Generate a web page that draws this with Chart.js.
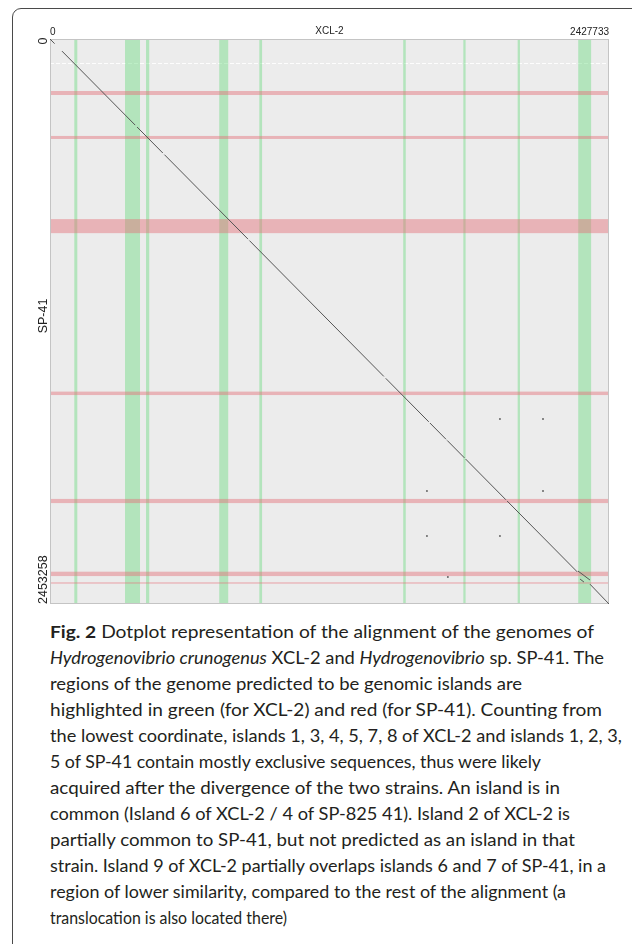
<!DOCTYPE html>
<html>
<head>
<meta charset="utf-8">
<script src="https://cdn.jsdelivr.net/npm/chart.js@4.4.1/dist/chart.umd.min.js"></script>
<style>
html, body { margin: 0; padding: 0; background: #fff; width: 632px; height: 944px; overflow: hidden; }
#frame { position: absolute; left: 12px; top: 8px; width: 700px; height: 1000px; border: 1px solid #4a4a4a; border-radius: 9px; }
#wrap { position: absolute; left: 0; top: 0; width: 632px; height: 612px; }
#caption { position: absolute; left: 50px; top: 619px; font-family: Lato, "Open Sans", sans-serif; font-size: 17.5px; line-height: 26px; color: #231f20; white-space: nowrap; }
#caption div { height: 26px; }
#caption span.ln { display: inline-block; transform-origin: 0 50%; }
#caption b { font-weight: 700; }
</style>
</head>
<body>
<div id="frame"></div>
<div id="wrap"><canvas id="dotplot"></canvas></div>
<div id="caption">
<div><span class="ln"><b>Fig. 2</b> Dotplot representation of the alignment of the genomes of</span></div>
<div><span class="ln"><i>Hydrogenovibrio crunogenus</i> XCL-2 and <i>Hydrogenovibrio</i> sp. SP-41. The</span></div>
<div><span class="ln">regions of the genome predicted to be genomic islands are</span></div>
<div><span class="ln">highlighted in green (for XCL-2) and red (for SP-41). Counting from</span></div>
<div><span class="ln">the lowest coordinate, islands 1, 3, 4, 5, 7, 8 of XCL-2 and islands 1, 2, 3,</span></div>
<div><span class="ln">5 of SP-41 contain mostly exclusive sequences, thus were likely</span></div>
<div><span class="ln">acquired after the divergence of the two strains. An island is in</span></div>
<div><span class="ln">common (Island 6 of XCL-2 / 4 of SP-825 41). Island 2 of XCL-2 is</span></div>
<div><span class="ln">partially common to SP-41, but not predicted as an island in that</span></div>
<div><span class="ln">strain. Island 9 of XCL-2 partially overlaps islands 6 and 7 of SP-41, in a</span></div>
<div><span class="ln">region of lower similarity, compared to the rest of the alignment (a</span></div>
<div><span class="ln">translocation is also located there)</span></div>
</div>
<script>
// genome lengths (axis ends)
const xclLength = 2427733;
const spLength = 2453258;
const xTickLabels = ['0', '2427733'];
const yTickLabels = ['0', '2453258'];

// islands of XCL-2 (green, x axis)
const xclIslandStart = [105500, 325700, 417000, 735000, 909000, 1534000, 1795000, 2031000, 2294000];
const xclIslandEnd   = [118600, 390900, 431000, 774000, 921000, 1545000, 1805000, 2041000, 2350000];

// islands of SP-41 (red, y axis)
const spIslandStart = [225800, 421000, 782000, 1531000, 1997000, 2313000, 2359000];
const spIslandEnd   = [243200, 434000, 843000, 1546000, 2015000, 2332000, 2365000];

// alignment segments (XCL-2 -> SP-41)
const segXStart = [0, 52000, 378000, 497000, 866000, 1458000, 1650000, 1725000, 1805000, 1985000, 2293000, 2302000, 2345000];
const segXEnd   = [20000, 370000, 490000, 860000, 1450000, 1645000, 1720000, 1800000, 1980000, 2290000, 2345000, 2319000, 2427733];
const segYStart = [0, 52550, 382000, 502200, 875100, 1473300, 1667300, 1743100, 1823900, 2005800, 2310000, 2345000, 2367000];
const segYEnd   = [20200, 373900, 495100, 869000, 1465200, 1662300, 1738100, 1818900, 2000800, 2314000, 2349000, 2358000, 2453258];

// small off-diagonal hits
const dotX = [1954000, 2141000, 1637000, 2141000, 1637000, 1954000, 1728000];
const dotY = [1650000, 1650000, 1963000, 1963000, 2158000, 2158000, 2336000];

// faint dashed line across the top
const dashY = 104000;

// right end of each caption line in the picture
const captionLineEnds = [594, 604, 522, 602, 622, 541, 560, 570, 575, 606, 566, 287];

const linePoints = [];
segXStart.forEach((x, i) => {
    linePoints.push({ x: x, y: segYStart[i] });
    linePoints.push({ x: segXEnd[i], y: segYEnd[i] });
    linePoints.push({ x: segXEnd[i], y: null });
});

const dotPoints = dotX.map((x, i) => ({ x: x, y: dotY[i] }));

const bandPlugin = {
    id: 'bands',
    beforeDatasetsDraw(chart) {
        const { ctx, chartArea: a, scales: { x, y } } = chart;
        ctx.save();
        ctx.fillStyle = '#ececec';
        ctx.fillRect(a.left, a.top, a.width, a.height);

        // dashed white line
        ctx.strokeStyle = 'rgba(255,255,255,0.9)';
        ctx.lineWidth = 1;
        ctx.setLineDash([4, 2]);
        const dy = Math.round(y.getPixelForValue(dashY)) + 0.5;
        ctx.beginPath();
        ctx.moveTo(a.left, dy);
        ctx.lineTo(a.right, dy);
        ctx.stroke();
        ctx.setLineDash([]);

        ctx.fillStyle = 'rgba(110,220,130,0.45)';
        xclIslandStart.forEach((s, i) => {
            const x1 = x.getPixelForValue(s);
            const x2 = x.getPixelForValue(xclIslandEnd[i]);
            ctx.fillRect(x1, a.top, Math.max(x2 - x1, 1.5), a.height);
        });

        ctx.fillStyle = 'rgba(228,110,120,0.45)';
        spIslandStart.forEach((s, i) => {
            const y1 = y.getPixelForValue(s);
            const y2 = y.getPixelForValue(spIslandEnd[i]);
            ctx.fillRect(a.left, y1, a.width, Math.max(y2 - y1, 1.2));
        });

        ctx.strokeStyle = '#c4c4c4';
        ctx.lineWidth = 1;
        ctx.strokeRect(a.left + 0.5, a.top + 0.5, a.width - 1, a.height - 1);
        ctx.restore();
    },
    afterDraw(chart) {
        const { ctx, chartArea: a, scales: { x, y } } = chart;
        ctx.save();
        ctx.fillStyle = '#222';
        ctx.font = '10px "Liberation Sans", Arial, sans-serif';
        ctx.textBaseline = 'alphabetic';
        ctx.textAlign = 'left';
        ctx.fillText(xTickLabels[0], x.getPixelForValue(0), a.top - 4);
        ctx.textAlign = 'right';
        ctx.fillText(xTickLabels[1], x.getPixelForValue(xclLength), a.top - 4);
        ctx.textAlign = 'center';
        ctx.fillText('XCL-2', (a.left + a.right) / 2, a.top - 5);

        ctx.font = '12.5px "Liberation Sans", Arial, sans-serif';
        const lx = a.left - 3;
        ctx.translate(lx, 0);
        ctx.rotate(-Math.PI / 2);
        ctx.textAlign = 'center';
        ctx.fillText(yTickLabels[0], -y.getPixelForValue(0) - 2, 0);
        ctx.textAlign = 'left';
        ctx.fillText(yTickLabels[1], -y.getPixelForValue(spLength), 0);
        ctx.textAlign = 'center';
        ctx.fillText('SP-41', -316, 0);
        ctx.restore();
    }
};

new Chart(document.getElementById('dotplot'), {
    type: 'scatter',
    data: {
        datasets: [{
            data: linePoints,
            showLine: true,
            spanGaps: false,
            borderColor: '#555',
            borderWidth: 1,
            pointRadius: 0
        }, {
            data: dotPoints,
            showLine: false,
            pointRadius: 1,
            pointBackgroundColor: '#666',
            pointBorderWidth: 0
        }]
    },
    options: {
        responsive: true,
        maintainAspectRatio: false,
        animation: false,
        layout: { padding: { left: 50, top: 39, right: 23, bottom: 8 } },
        plugins: { legend: { display: false }, tooltip: { enabled: false } },
        scales: {
            x: { type: 'linear', min: 0, max: xclLength, display: false },
            y: { type: 'linear', min: 0, max: spLength, reverse: true, display: false }
        }
    },
    plugins: [bandPlugin]
});

// stretch each caption line to the width it has in the figure
document.querySelectorAll('#caption span.ln').forEach((el, i) => {
    const w = el.getBoundingClientRect().width;
    const target = captionLineEnds[i] - 50;
    if (w > 0) el.style.transform = 'scaleX(' + (target / w).toFixed(4) + ')';
});
</script>
</body>
</html>
